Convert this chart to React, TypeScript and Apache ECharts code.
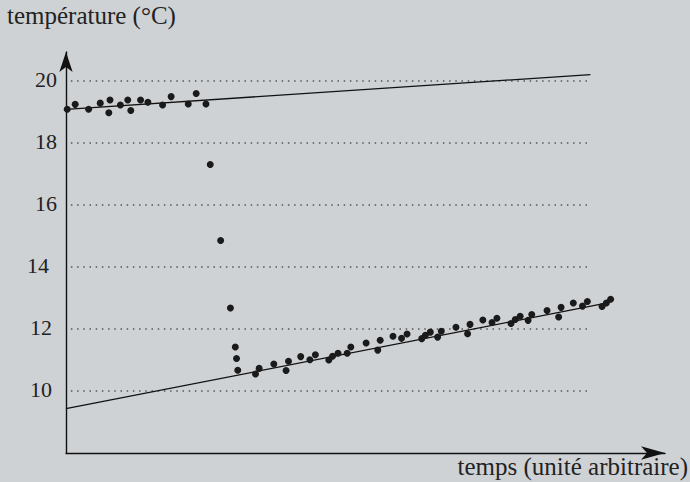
import React, { useEffect, useRef } from "react";
import * as echarts from "echarts";

// time (arbitrary units), temperature (°C)
const plateauTime = [0.2, 1.5, 3.7, 5.6, 7.2, 7.0, 8.9, 10.1, 10.6, 12.2, 13.4, 15.8, 17.2, 20.0, 21.3, 22.9];
const plateauTemp = [19.09, 19.25, 19.09, 19.29, 19.39, 18.98, 19.23, 19.39, 19.05, 19.39, 19.32, 19.23, 19.5, 19.26, 19.6, 19.26];

const dropTime = [23.6, 25.3, 26.9, 27.7, 27.9, 28.1];
const dropTemp = [17.31, 14.86, 12.68, 11.42, 11.05, 10.67];

const lowTime = [
  31.0, 31.6, 34.0, 36.0, 36.4, 38.4, 39.9, 40.8, 43.0, 43.6, 44.5, 46.0, 46.6, 49.1, 51.0, 51.4,
  53.5, 54.9, 55.8, 58.2, 58.8, 59.6, 60.8, 61.4, 63.8, 65.7, 66.1, 68.2, 69.7, 70.5, 72.8, 73.5,
  74.3, 75.6, 76.2, 78.7, 80.6, 81.0, 83.0, 84.5, 85.3, 87.7, 88.4, 89.1,
];
const lowTemp = [
  10.55, 10.73, 10.87, 10.66, 10.96, 11.11, 11.01, 11.17, 11.0, 11.12, 11.22, 11.22, 11.42, 11.55, 11.32, 11.64,
  11.77, 11.7, 11.84, 11.69, 11.8, 11.9, 11.74, 11.93, 12.06, 11.85, 12.15, 12.29, 12.21, 12.35, 12.18, 12.31,
  12.41, 12.28, 12.47, 12.6, 12.39, 12.7, 12.84, 12.74, 12.89, 12.73, 12.84, 12.96,
];

// fitted lines: [time, temperature] end points
const upperFitTime = [0, 85.8];
const upperFitTemp = [19.09, 20.21];
const lowerFitTime = [0, 89.0];
const lowerFitTemp = [9.43, 12.86];

const gridValues = [10, 12, 14, 16, 18, 20];
const gridFrom = 0.8;
const gridTo = 85.8;

const yTitle = "température (°C)";
const xTitle = "temps (unité arbitraire)";

const zip = (a: number[], b: number[]) => a.map((v, i) => [v, b[i]]);

export default function App() {
  const ref = useRef<HTMLDivElement>(null);
  useEffect(() => {
    if (!ref.current) return;
    const chart = echarts.init(ref.current, null, { renderer: "svg" });
    const font = "Liberation Serif";
    const points = [...zip(plateauTime, plateauTemp), ...zip(dropTime, dropTemp), ...zip(lowTime, lowTemp)];
    const labelBase = { fontFamily: font, fontSize: 22, color: "#222" };
    chart.setOption({
      animation: false,
      backgroundColor: "#cfd2d5",
      textStyle: { fontFamily: font },
      grid: { left: 66, top: 52, right: 25, bottom: 29, containLabel: false },
      xAxis: {
        type: "value",
        min: 0,
        max: 98,
        axisLine: {
          show: true,
          onZero: false,
          lineStyle: { color: "#111", width: 1.4 },
          symbol: ["none", "arrow"],
          symbolSize: [10, 24],
        },
        axisTick: { show: false },
        axisLabel: { show: false },
        splitLine: { show: false },
      },
      yAxis: {
        type: "value",
        min: 8,
        max: 20.94,
        interval: 2,
        axisLine: {
          show: true,
          onZero: false,
          lineStyle: { color: "#111", width: 1.4 },
          symbol: ["none", "arrow"],
          symbolSize: [10, 20],
        },
        axisTick: { show: false },
        splitLine: { show: false },
        axisLabel: {
          show: true,
          margin: 9,
          ...labelBase,
          rich: {
            a: { ...labelBase, padding: [0, 0, 3, 0] },
            b: { ...labelBase, padding: [0, 5, 3, 0] },
            c: { ...labelBase, padding: [0, 8, 3, 0] },
          },
          formatter: (v: number) => {
            if (v > 20.5 || v < 9) return "";
            const k = v === 14 ? "c" : v <= 12 ? "b" : "a";
            return `{${k}|${v}}`;
          },
        },
      },
      series: [
        {
          type: "line",
          data: zip(upperFitTime, upperFitTemp),
          symbol: "none",
          lineStyle: { color: "#111", width: 1.3 },
          silent: true,
          z: 3,
        },
        {
          type: "line",
          data: zip(lowerFitTime, lowerFitTemp),
          symbol: "none",
          lineStyle: { color: "#111", width: 1.3 },
          silent: true,
          z: 3,
        },
        {
          type: "scatter",
          data: points,
          symbol: "circle",
          symbolSize: 7,
          itemStyle: { color: "#1a1a1a", opacity: 1 },
          z: 4,
          markLine: {
            silent: true,
            symbol: "none",
            label: { show: false },
            lineStyle: { color: "#555", width: 1.5, type: [1.5, 4.7] },
            data: gridValues.map((v) => [{ coord: [gridFrom, v] }, { coord: [gridTo, v] }]),
            z: 1,
          },
        },
      ],
      graphic: [
        {
          type: "text",
          left: 7,
          top: 3,
          style: { text: yTitle, fontFamily: font, fontSize: 25, fill: "#222" },
        },
        {
          type: "text",
          right: 2,
          top: 454,
          style: { text: xTitle, fontFamily: font, fontSize: 25, fill: "#222" },
        },
      ],
    });
    return () => chart.dispose();
  }, []);
  return (
    <div
      ref={ref}
      style={{ position: "fixed", left: 0, top: 0, width: 690, height: 482 }}
    />
  );
}
